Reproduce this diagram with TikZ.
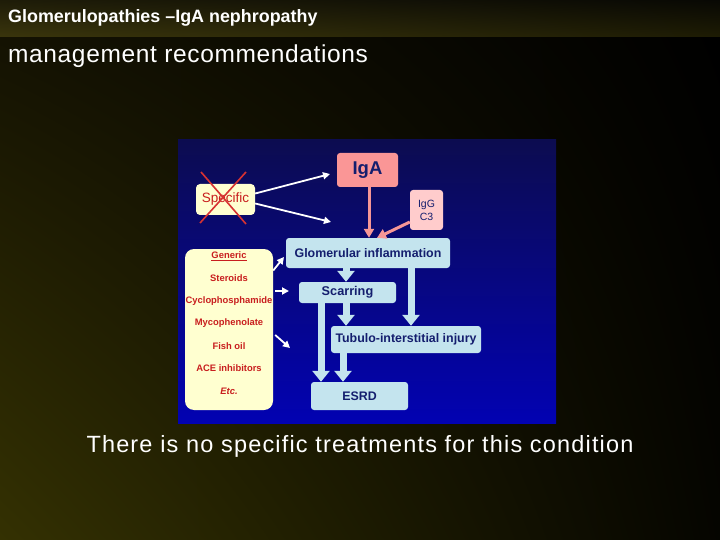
\documentclass[tikz,border=0pt]{standalone}
\usepackage{fontspec}
\setmainfont{Liberation Sans}
\usetikzlibrary{arrows.meta,shadings}
\definecolor{olive}{RGB}{52,49,2}
\definecolor{oliveDark}{RGB}{20,18,2}
\definecolor{hdrLL}{RGB}{58,53,12}
\definecolor{hdrUL}{RGB}{30,28,8}
\definecolor{hdrLR}{RGB}{30,28,4}
\definecolor{hdrUR}{RGB}{8,8,4}
\definecolor{navyTop}{RGB}{12,12,80}
\definecolor{navyBot}{RGB}{2,2,178}
\definecolor{cream}{RGB}{255,255,208}
\definecolor{salmon}{RGB}{250,150,150}
\definecolor{pinkLight}{RGB}{255,204,204}
\definecolor{pinkArrow}{RGB}{245,150,150}
\definecolor{paleBlue}{RGB}{196,228,238}
\definecolor{txtNavy}{RGB}{20,30,110}
\definecolor{txtRed}{RGB}{200,30,30}
\definecolor{crossRed}{RGB}{215,50,50}
\tikzset{
  yellowbox/.style={draw=none, fill=cream, rounded corners=4pt, inner sep=0pt},
  bluebox/.style={draw=none, fill=paleBlue, rounded corners=3pt, inner sep=0pt, text=txtNavy},
  bigarrow/.style={draw=paleBlue, line width=7pt, -{Triangle[width=17pt,length=11pt]}},
  pinkarrow/.style={draw=pinkArrow, line width=3pt, -{Triangle[width=10pt,length=9pt]}},
  whitearrow/.style={draw=white, line width=1.8pt, -{Triangle[width=7pt,length=7pt]}},
  redtxt/.style={text=txtRed, font=\bfseries\fontsize{9.4}{10}\selectfont},
}
\begin{document}
\begin{tikzpicture}[x=1pt,y=-1pt]
\useasboundingbox (0,0) rectangle (720,540);
% background
\shade[upper left=oliveDark, upper right=black, lower left=olive, lower right=black!90!olive] (0,37) rectangle (720,540);
\shade[upper left=hdrUL, upper right=hdrUR, lower left=hdrLL, lower right=hdrLR] (0,0) rectangle (720,37);
% header texts
\node[anchor=west, text=white, font=\bfseries\fontsize{17.9}{19}\selectfont, inner sep=0pt] (title) at (8,18) {Glomerulopathies –IgA nephropathy};
\node[anchor=west, text=white, font=\fontsize{24.5}{27}\selectfont\addfontfeature{LetterSpace=2.6}, inner sep=0pt] (sub) at (8,56) {management recommendations};
% blue panel
\shade[top color=navyTop, bottom color=navyBot] (178,140) rectangle (556,423);
% boxes
\node[yellowbox, minimum width=59pt, minimum height=31pt, text=txtRed, font=\fontsize{13.5}{15}\selectfont] (spec) at (225.5,199.5) {Specific};
\draw[crossRed, line width=1.6pt] (201,172) -- (246,224) (246,172) -- (200,223);
\node[draw=none, fill=salmon, rounded corners=3pt, minimum width=61pt, minimum height=34pt, inner sep=0pt, text=txtNavy, font=\bfseries\fontsize{18.5}{20}\selectfont] (iga) at (367.5,170) {IgA};
\node[draw=none, fill=pinkLight, rounded corners=3pt, minimum width=33pt, minimum height=40pt, inner sep=0pt, text=txtNavy, font=\fontsize{10.5}{13}\selectfont, align=center] (igg) at (426.5,210) {IgG\\C3};
\node[bluebox, minimum width=164pt, minimum height=30pt, font=\bfseries\fontsize{12.4}{13}\selectfont] (glom) at (368,253) {Glomerular inflammation};
\node[bluebox, minimum width=97pt, minimum height=21pt, font=\bfseries\fontsize{12.7}{13}\selectfont] (scar) at (347.5,292.5) {Scarring};
\node[bluebox, minimum width=150pt, minimum height=27pt, font=\bfseries\fontsize{12.4}{13}\selectfont] (tub) at (406,339.5) {Tubulo-interstitial injury};
\node[bluebox, minimum width=97pt, minimum height=28pt, font=\bfseries\fontsize{12.4}{13}\selectfont] (esrd) at (359.5,396) {ESRD};
\node[yellowbox, rounded corners=9pt, minimum width=88pt, minimum height=161pt] (gen) at (229,329.5) {};
\node[redtxt] (g1) at (229,256) {\underline{Generic}};
\node[redtxt] (g2) at (229,278.5) {Steroids};
\node[redtxt] (g3) at (229,301) {Cyclophosphamide};
\node[redtxt] (g4) at (229,323.5) {Mycophenolate};
\node[redtxt] (g5) at (229,346) {Fish oil};
\node[redtxt] (g6) at (229,368.5) {ACE inhibitors};
\node[redtxt, font=\bfseries\itshape\fontsize{9.4}{10}\selectfont] (g7) at (229,391) {Etc.};
% coordinates for free ends
\coordinate (s1) at (330,174);
\coordinate (s2) at (331,222);
\coordinate (w1) at (284,257);
\coordinate (w2) at (289,291);
\coordinate (w3) at (290,348);
% white arrows (yshift is upward in canvas)
\draw[whitearrow] ([yshift=6pt]spec.east) -- (s1);
\draw[whitearrow] ([yshift=-4pt]spec.east) -- (s2);
\draw[whitearrow] ([yshift=59pt]gen.east) -- (w1);
\draw[whitearrow] ([xshift=2pt,yshift=38.5pt]gen.east) -- (w2);
\draw[whitearrow] ([xshift=2pt,yshift=-5.5pt]gen.east) -- (w3);
% pink arrows
\draw[pinkarrow] ([xshift=1.5pt]iga.south) -- ([xshift=1pt]glom.north);
\draw[pinkarrow] ([yshift=-12pt]igg.west) -- ([xshift=9pt]glom.north);
% blue flow arrows
\draw[bigarrow] ([xshift=-22pt]glom.south) -- ([xshift=-1.5pt]scar.north);
\draw[bigarrow] ([xshift=43pt]glom.south) -- ([xshift=5pt]tub.north);
\draw[bigarrow] ([xshift=-1.5pt]scar.south) -- ([xshift=-60pt]tub.north);
\draw[bigarrow] ([xshift=-26.5pt]scar.south) -- ([xshift=-38.5pt]esrd.north);
\draw[bigarrow] ([xshift=-63pt]tub.south) -- ([xshift=-16.5pt]esrd.north);
% bottom text
\node[text=white, font=\fontsize{23.5}{26}\selectfont\addfontfeature{LetterSpace=5}, inner sep=0pt] (bottom) at (360,446) {There is no specific treatments for this condition};
\end{tikzpicture}
\end{document}
